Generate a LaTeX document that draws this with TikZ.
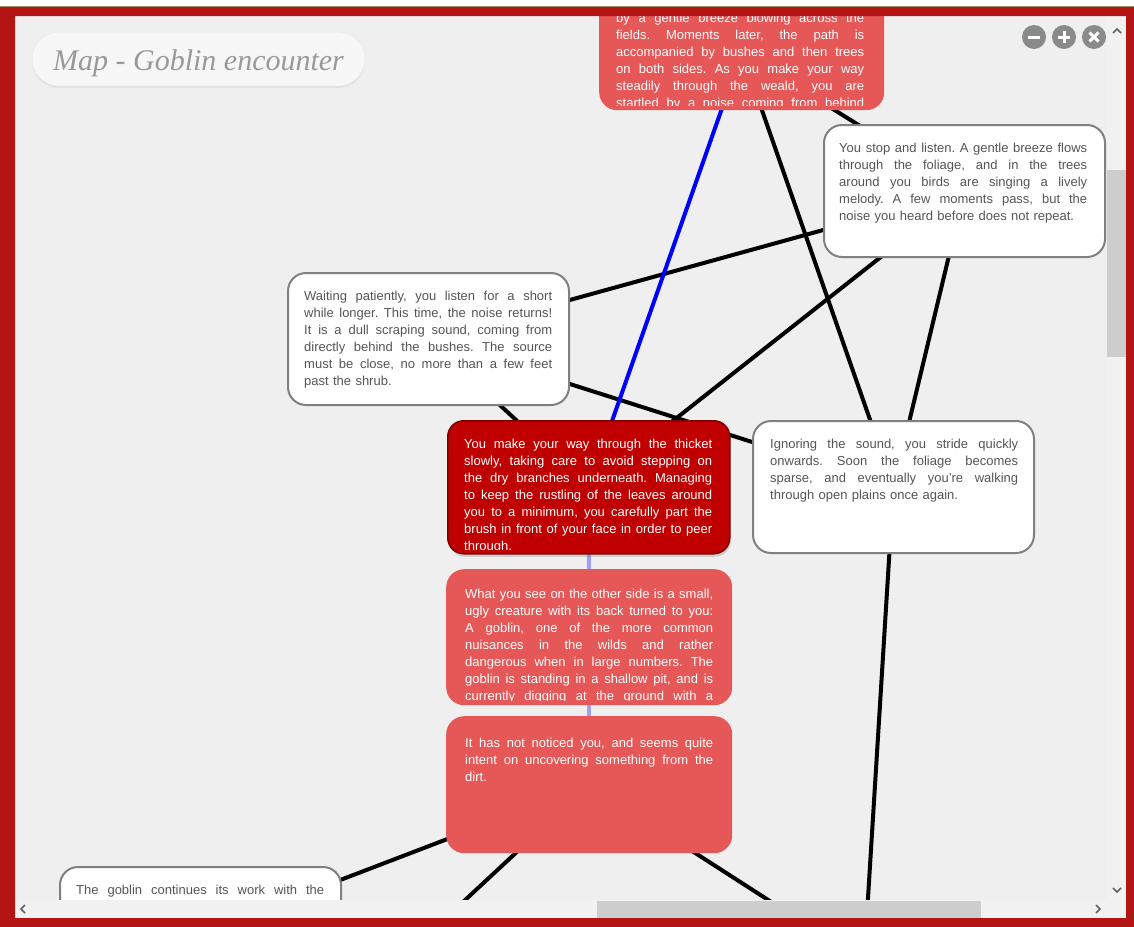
\documentclass[tikz,border=0pt]{standalone}
\usepackage{fontspec}
\setmainfont{Liberation Sans}
\newfontfamily\titlefam{Liberation Serif}
\usetikzlibrary{shadows,calc}
\pgfdeclarelayer{canvas}
\pgfdeclarelayer{edges}
\pgfdeclarelayer{frame}
\pgfsetlayers{canvas,edges,main,frame}
\definecolor{framered}{HTML}{B31414}
\definecolor{canvasc}{HTML}{EFEFEF}
\definecolor{pillc}{HTML}{F7F7F7}
\definecolor{titlec}{HTML}{999999}
\definecolor{lred}{HTML}{E65858}
\definecolor{dred}{HTML}{C00000}
\definecolor{dredb}{HTML}{7E0000}
\definecolor{boxgray}{HTML}{808080}
\definecolor{txtgray}{HTML}{555555}
\definecolor{lblue}{HTML}{A0A0F2}
\definecolor{trackc}{HTML}{F1F1F1}
\definecolor{thumbc}{HTML}{CDCDCD}
\definecolor{arrowc}{HTML}{606060}
\definecolor{btnc}{HTML}{8A8A8A}
\newcommand\bodyfnt{\fontsize{13}{17}\selectfont\frenchspacing}
\newcommand\jl[1]{\par\noindent\hbox to 248pt{\spaceskip=\fontdimen2\font plus 1fil minus \fontdimen4\font\relax #1}\par}
\newcommand\nl[1]{\par\noindent\hbox{#1}\par}
\begin{document}
\begin{tikzpicture}[x=1pt,y=-1pt,
  wbox/.style={draw=boxgray, line width=2pt, fill=white, rounded corners=18pt, anchor=north west, inner sep=0pt},
  rbox/.style={fill=lred, rounded corners=18pt, anchor=north west, inner sep=0pt},
  dbox/.style={fill=dred, draw=dredb, line width=1.5pt, rounded corners=16pt, anchor=north west, inner sep=0pt,
     drop shadow={opacity=0.3, shadow xshift=1pt, shadow yshift=-3pt}},
  wtxt/.style={anchor=north west, inner sep=0pt, text width=248pt, align=left, font=\bodyfnt, text=txtgray},
  rtxt/.style={wtxt, text=white},
  link/.style={line width=4pt, black},
  bluelink/.style={line width=4pt, blue},
  lbluelink/.style={line width=4pt, lblue},
  pill/.style={fill=pillc, draw=black!8, line width=0.6pt, rounded corners=27pt, minimum width=333pt, minimum height=54pt,
     font=\titlefam\itshape\fontsize{30}{32}\selectfont, text=titlec, text height=22pt, text depth=0pt,
     drop shadow={opacity=0.12, shadow xshift=0pt, shadow yshift=-2pt}},
  btn/.style={circle, fill=btnc, minimum size=24pt, inner sep=0pt},
  glyph/.style={white, line width=3pt},
  chev/.style={arrowc, line width=1.6pt}
]
\useasboundingbox (0,0) rectangle (1134,926);
\begin{pgfonlayer}{canvas}
\fill[canvasc] (0,0) rectangle (1134,926);
\end{pgfonlayer}

% ---- boxes ----
\node[rbox, minimum width=285pt, minimum height=116pt] (top) at (599,-6) {};
\node[wbox, minimum width=281pt, minimum height=132pt] (stop) at (823,124) {};
\node[wbox, minimum width=281pt, minimum height=132pt] (wait) at (287,272) {};
\node[dbox, minimum width=282pt, minimum height=133pt] (dark) at (447,420) {};
\node[wbox, minimum width=281pt, minimum height=132pt] (ign) at (752,420) {};
\node[rbox, minimum width=286pt, minimum height=136pt] (see) at (446,569) {};
\node[rbox, minimum width=286pt, minimum height=137pt] (notice) at (446,716) {};
\node[wbox, minimum width=281pt, minimum height=133pt] (gob) at (59,866) {};
\coordinate (ignout) at (866,930);
\coordinate (nl) at (449,915);
\coordinate (nr) at (776,905);

% ---- texts ----
\begin{scope}
\clip ([yshift=5pt]top.south west) rectangle (top.north east);
\node[rtxt] (toptxt) at ([xshift=17pt,yshift=-11pt]top.north west) {%
\jl{by a gentle breeze blowing across the}\jl{fields. Moments later, the path is}\jl{accompanied by bushes and then trees}\jl{on both sides. As you make your way}\jl{steadily through the weald, you are}\jl{startled by a noise coming from behind}};
\end{scope}
\node[wtxt] (stoptxt) at ([xshift=16pt,yshift=-11pt]stop.north west) {%
\jl{You stop and listen. A gentle breeze flows}\jl{through the foliage, and in the trees}\jl{around you birds are singing a lively}\jl{melody. A few moments pass, but the}\nl{noise you heard before does not repeat.}};
\node[wtxt] (waittxt) at ([xshift=17pt,yshift=-11pt]wait.north west) {%
\jl{Waiting patiently, you listen for a short}\jl{while longer. This time, the noise returns!}\jl{It is a dull scraping sound, coming from}\jl{directly behind the bushes. The source}\jl{must be close, no more than a few feet}\nl{past the shrub.}};
\begin{scope}
\clip ([yshift=5pt]dark.south west) rectangle (dark.north east);
\node[rtxt] (darktxt) at ([xshift=17pt,yshift=-11pt]dark.north west) {%
\jl{You make your way through the thicket}\jl{slowly, taking care to avoid stepping on}\jl{the dry branches underneath. Managing}\jl{to keep the rustling of the leaves around}\jl{you to a minimum, you carefully part the}\jl{brush in front of your face in order to peer}\nl{through.}};
\end{scope}
\node[wtxt] (igntxt) at ([xshift=18pt,yshift=-11pt]ign.north west) {%
\jl{Ignoring the sound, you stride quickly}\jl{onwards. Soon the foliage becomes}\jl{sparse, and eventually you’re walking}\nl{through open plains once again.}};
\begin{scope}
\clip ([yshift=5pt]see.south west) rectangle (see.north east);
\node[rtxt] (seetxt) at ([xshift=19pt,yshift=-12pt]see.north west) {%
\jl{What you see on the other side is a small,}\jl{ugly creature with its back turned to you:}\jl{A goblin, one of the more common}\jl{nuisances in the wilds and rather}\jl{dangerous when in large numbers. The}\jl{goblin is standing in a shallow pit, and is}\jl{currently digging at the ground with a}};
\end{scope}
\node[rtxt] (noticetxt) at ([xshift=19pt,yshift=-14pt]notice.north west) {%
\jl{It has not noticed you, and seems quite}\jl{intent on uncovering something from the}\nl{dirt.}};
\node[wtxt] (gobtxt) at ([xshift=17pt,yshift=-11pt]gob.north west) {%
\jl{The goblin continues its work with the}};

% ---- title ----
\node[pill] (title) at (198.5,59) {Map - Goblin encounter};

% ---- connectors ----
\begin{pgfonlayer}{edges}
\draw[link] (top.center) -- (ign.center);
\draw[link] (top.center) -- (stop.center);
\draw[link] (wait.center) -- (stop.center);
\draw[link] (wait.center) -- (ign.center);
\draw[link] (wait.center) -- (dark.center);
\draw[link] (stop.center) -- (dark.center);
\draw[link] (stop.center) -- (ign.center);
\draw[link] (ign.center) -- (ignout);
\draw[link] (notice.center) -- (gob.center);
\draw[link] (notice.center) -- (nl);
\draw[link] (notice.center) -- (nr);
\draw[bluelink] (top.center) -- (dark.center);
\draw[lbluelink] (dark.center) -- (see.center);
\draw[lbluelink] (see.center) -- (notice.center);
\end{pgfonlayer}

% ---- window frame ----
\begin{pgfonlayer}{frame}
\fill[trackc] (15,900) rectangle (1126,918);
\fill[trackc] (1107,16) rectangle (1126,900);
\fill[thumbc] (1107,170) rectangle (1126,357);
\fill[thumbc] (597,901) rectangle (981,918);
\draw[chev] (1113,33) -- (1117,29) -- (1121,33);
\draw[chev] (1113,888) -- (1117,892) -- (1121,888);
\draw[chev] (25,905) -- (21,909) -- (25,913);
\draw[chev] (1096,905) -- (1100,909) -- (1096,913);
\fill[framered, even odd rule] (-30,-30) rectangle (1164,960) (15,16) rectangle (1126,918);
\fill[white] (-30,-30) rectangle (1164,6);
\draw[black!45!yellow!60!gray, line width=0.8pt] (0,6) -- (1134,6);
\node[btn] (bmin) at (1034,37) {};
\node[btn] (bplus) at (1064,37) {};
\node[btn] (bx) at (1094,37) {};
\draw[glyph] ([xshift=-6pt]bmin.center) -- ([xshift=6pt]bmin.center);
\draw[glyph] ([xshift=-6pt]bplus.center) -- ([xshift=6pt]bplus.center);
\draw[glyph] ([yshift=-6pt]bplus.center) -- ([yshift=6pt]bplus.center);
\draw[glyph] ([xshift=-4.5pt,yshift=-4.5pt]bx.center) -- ([xshift=4.5pt,yshift=4.5pt]bx.center);
\draw[glyph] ([xshift=-4.5pt,yshift=4.5pt]bx.center) -- ([xshift=4.5pt,yshift=-4.5pt]bx.center);
\end{pgfonlayer}
\end{tikzpicture}
\end{document}
